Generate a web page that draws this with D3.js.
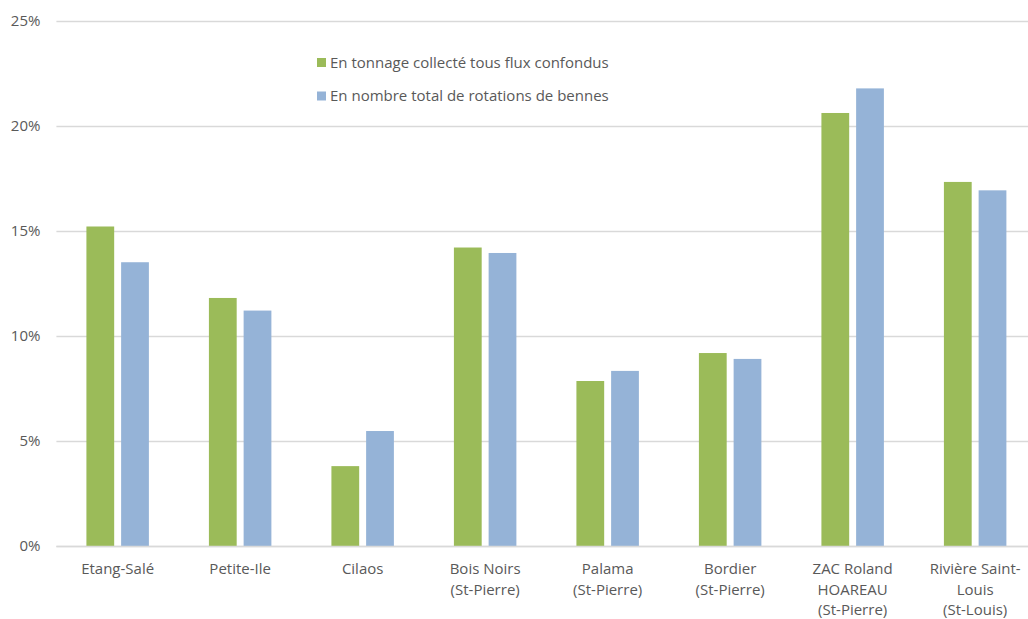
<!DOCTYPE html>
<html>
<head>
<meta charset="utf-8">
<script src="https://cdn.jsdelivr.net/npm/d3@7"></script>
<style>
  body { margin: 0; background: #fff; }
  text { font-family: "Open Sans", Lato, sans-serif; fill: #595959; }
</style>
</head>
<body>
<div id="vis-container"></div>
<script>
// width and height
var w = 1028;
var h = 619;

// data
var categories = [
    ["Etang-Salé"],
    ["Petite-Ile"],
    ["Cilaos"],
    ["Bois Noirs", "(St-Pierre)"],
    ["Palama", "(St-Pierre)"],
    ["Bordier", "(St-Pierre)"],
    ["ZAC Roland", "HOAREAU", "(St-Pierre)"],
    ["Rivière Saint-", "Louis", "(St-Louis)"]
];
var tonnage = [0.152, 0.118, 0.038, 0.142, 0.0785, 0.0918, 0.206, 0.1732];
var rotations = [0.135, 0.112, 0.0547, 0.1394, 0.0833, 0.089, 0.2177, 0.1692];
var seriesNames = ["En tonnage collecté tous flux confondus", "En nombre total de rotations de bennes"];
var colors = ["#9BBB59", "#95B3D7"];
var yTicks = [0, 0.05, 0.10, 0.15, 0.20, 0.25];

var plotLeft = 56.4, plotRight = 1036.4, plotTop = 20.5, plotBottom = 546;

var svg = d3.select("#vis-container")
    .append("svg")
    .attr("width", w)
    .attr("height", h);

var keys = d3.range(categories.length);

var x0 = d3.scaleBand()
    .domain(keys)
    .range([plotLeft, plotRight])
    .paddingInner(0.49)
    .paddingOuter(0.245);

var x1 = d3.scaleBand()
    .domain([0, 1])
    .range([0, x0.bandwidth()])
    .paddingInner(0.2);

var yScale = d3.scaleLinear()
    .domain([0, 0.25])
    .range([plotBottom, plotTop]);

// gridlines
svg.append("g")
    .selectAll("line")
    .data(yTicks)
    .enter().append("line")
    .attr("x1", plotLeft)
    .attr("x2", w)
    .attr("y1", function (d) { return Math.round(yScale(d)) + 0.5; })
    .attr("y2", function (d) { return Math.round(yScale(d)) + 0.5; })
    .attr("stroke", "#d9d9d9")
    .attr("stroke-width", 1.3);

// y labels
var yAxis = d3.axisLeft(yScale)
    .tickValues(yTicks)
    .tickFormat(d3.format(".0%"))
    .tickSize(0)
    .tickPadding(16);

svg.append("g")
    .attr("transform", "translate(" + plotLeft + ",0)")
    .call(yAxis)
    .call(function (g) { g.select(".domain").remove(); })
    .selectAll("text")
    .style("font-family", "'Open Sans', sans-serif")
    .style("font-size", "15px")
    .attr("fill", "#595959");

// bars
var series = [tonnage, rotations];
var groups = svg.append("g")
    .selectAll("g")
    .data(keys)
    .enter().append("g")
    .attr("transform", function (i) { return "translate(" + x0(i) + ",0)"; });

groups.selectAll("rect")
    .data(function (i) { return series.map(function (s, j) { return { s: j, v: s[i] }; }); })
    .enter().append("rect")
    .attr("x", function (d) { return x1(d.s); })
    .attr("width", x1.bandwidth())
    .attr("y", function (d) { return yScale(d.v); })
    .attr("height", function (d) { return yScale(0) - yScale(d.v); })
    .attr("fill", function (d) { return colors[d.s]; });

// baseline on top
svg.append("line")
    .attr("x1", plotLeft).attr("x2", w)
    .attr("y1", Math.round(yScale(0)) + 0.5).attr("y2", Math.round(yScale(0)) + 0.5)
    .attr("stroke", "#d9d9d9")
    .attr("stroke-width", 1.3);

// x labels
var xl = svg.append("g")
    .selectAll("text")
    .data(keys)
    .enter().append("text")
    .attr("x", function (i) { return x0(i) + x0.bandwidth() / 2; })
    .attr("y", 574)
    .style("text-anchor", "middle")
    .style("font-size", "15px");

xl.selectAll("tspan")
    .data(function (i) { return categories[i]; })
    .enter().append("tspan")
    .attr("x", function () { return d3.select(this.parentNode).attr("x"); })
    .attr("dy", function (d, k) { return k === 0 ? 0 : 20.5; })
    .text(function (d) { return d; });

// legend
var legend = svg.selectAll(".legend")
    .data(seriesNames)
    .enter().append("g")
    .attr("class", "legend")
    .attr("transform", function (d, i) { return "translate(317," + (58 + i * 33.5) + ")"; });

legend.append("rect")
    .attr("width", 9)
    .attr("height", 9)
    .style("fill", function (d, i) { return colors[i]; });

legend.append("text")
    .attr("x", 13)
    .attr("y", 4.5)
    .attr("dy", ".35em")
    .style("font-size", "15px")
    .text(function (d) { return d; });
</script>
</body>
</html>
